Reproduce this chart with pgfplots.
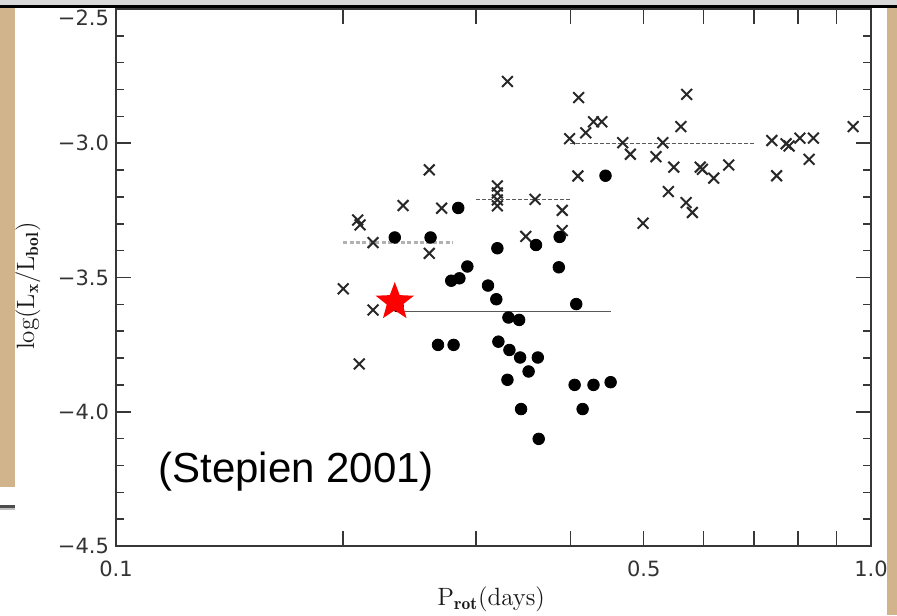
\documentclass[border=0pt]{standalone}
\usepackage{fontspec}
\usepackage{pgfplots}
\pgfplotsset{compat=1.18}
\usepackage{pgfplotstable}
\newfontfamily\tickfont{DejaVu Sans}
\newfontfamily\arialfont{Liberation Sans}
\definecolor{tanc}{RGB}{210,180,140}
\definecolor{axgray}{RGB}{55,55,55}
\definecolor{ptgray}{RGB}{40,40,40}

\pgfdeclareplotmark{fstar}{%
  \pgfpathmoveto{\pgfpointpolar{90}{\pgfplotmarksize}}%
  \pgfpathlineto{\pgfpointpolar{126}{0.42\pgfplotmarksize}}%
  \pgfpathlineto{\pgfpointpolar{162}{\pgfplotmarksize}}%
  \pgfpathlineto{\pgfpointpolar{198}{0.42\pgfplotmarksize}}%
  \pgfpathlineto{\pgfpointpolar{234}{\pgfplotmarksize}}%
  \pgfpathlineto{\pgfpointpolar{270}{0.42\pgfplotmarksize}}%
  \pgfpathlineto{\pgfpointpolar{306}{\pgfplotmarksize}}%
  \pgfpathlineto{\pgfpointpolar{342}{0.42\pgfplotmarksize}}%
  \pgfpathlineto{\pgfpointpolar{18}{\pgfplotmarksize}}%
  \pgfpathlineto{\pgfpointpolar{54}{0.42\pgfplotmarksize}}%
  \pgfpathclose\pgfusepathqfill}

\pgfplotstableread{
P L
0.200 -3.542
0.210 -3.822
0.209 -3.286
0.2105 -3.304
0.219 -3.370
0.219 -3.621
0.240 -3.232
0.260 -3.099
0.260 -3.410
0.270 -3.242
0.320 -3.159
0.320 -3.185
0.320 -3.211
0.320 -3.233
0.330 -2.770
0.349 -3.347
0.359 -3.209
0.390 -3.250
0.390 -3.325
0.399 -2.983
0.409 -3.122
0.410 -2.830
0.419 -2.961
0.429 -2.920
0.440 -2.920
0.469 -2.998
0.480 -3.041
0.499 -3.298
0.519 -3.050
0.530 -2.998
0.539 -3.180
0.548 -3.089
0.560 -2.938
0.570 -2.818
0.569 -3.221
0.580 -3.258
0.598 -3.097
0.594 -3.089
0.619 -3.130
0.648 -3.081
0.739 -2.990
0.750 -3.121
0.779 -3.010
0.772 -3.002
0.805 -2.981
0.839 -2.981
0.828 -3.060
0.947 -2.938
}\crosses

\pgfplotstableread{
P L
0.234 -3.351
0.261 -3.351
0.284 -3.241
0.320 -3.391
0.360 -3.379
0.387 -3.349
0.445 -3.121
0.292 -3.459
0.285 -3.503
0.278 -3.512
0.311 -3.530
0.319 -3.581
0.386 -3.462
0.236 -3.606
0.407 -3.599
0.331 -3.649
0.342 -3.658
0.267 -3.751
0.280 -3.751
0.321 -3.739
0.332 -3.770
0.343 -3.798
0.362 -3.798
0.352 -3.850
0.330 -3.881
0.405 -3.900
0.429 -3.900
0.452 -3.890
0.344 -3.990
0.415 -3.990
0.363 -4.101
}\dots

\begin{document}
\begin{tikzpicture}
\useasboundingbox (0,0) rectangle (448.5pt,307.5pt);
% slide background decorations
\fill[white] (0,0) rectangle (448.5pt,307.5pt);
\fill[black!15] (0,305pt) rectangle (448.5pt,307.5pt);
\fill[black] (0,303.5pt) rectangle (448.5pt,305pt);
\fill[tanc] (0,64pt) rectangle (7.5pt,303.5pt);
\fill[tanc] (443.5pt,0) rectangle (448.5pt,303.5pt);
\fill[black!70] (0,53.5pt) rectangle (7.5pt,55pt);
\fill[black!25] (0,52.5pt) rectangle (7.5pt,53.5pt);
\begin{axis}[
  at={(58pt,34.5pt)}, anchor=south west,
  scale only axis, width=377.5pt, height=268.5pt,
  xmode=log, xmin=0.1, xmax=1.0, ymin=-4.5, ymax=-2.5,
  log basis x=10,
  xtick={0.1,0.2,0.3,0.4,0.5,0.6,0.7,0.8,0.9,1.0},
  xticklabels={0.1,,,,0.5,,,,,1.0},
  minor xtick={},
  ytick={-4.5,-4.0,-3.5,-3.0,-2.5},
  yticklabels={−4.5,−4.0,−3.5,−3.0,\raisebox{-8.3pt}[0pt][0pt]{−2.5}},
  minor y tick num=4,
  major tick length=7.5pt, minor tick length=4pt,
  tick style={axgray, line width=0.75pt},
  axis line style={axgray, line width=1pt},
  ticklabel style={font=\tickfont\fontsize{10.5}{12}\selectfont, text=black!80},
  xticklabel style={yshift=-4pt},
  xlabel={P$_{\mathbf{rot}}$(days)},
  ylabel={log(L$_{\mathbf{x}}$/L$_{\mathbf{bol}}$)},
  label style={font=\fontsize{12.5}{14}\selectfont, text=black!90},
  xlabel style={at={(axis description cs:0.497,-0.10)}, anchor=center},
  ylabel style={at={(axis description cs:-0.1166,0.484)}, anchor=center, rotate=0},
  clip=false,
]
% mean lines
\addplot[black!30, line width=1.3pt, dash pattern=on 2pt off 1.2pt] coordinates {(0.200,-3.370) (0.279,-3.370)};
\addplot[black!65, line width=0.55pt, dash pattern=on 2pt off 1pt] coordinates {(0.300,-3.211) (0.399,-3.211)};
\addplot[black!65, line width=0.55pt, dash pattern=on 2pt off 1pt] coordinates {(0.399,-3.000) (0.700,-3.000)};
\addplot[black!65, line width=0.7pt] coordinates {(0.237,-3.627) (0.452,-3.627)};
% data
\addplot[only marks, mark=x, mark size=3.8pt, mark options={ptgray, line width=1pt}] table[x=P,y=L] {\crosses};
\addplot[only marks, mark=*, mark size=2.9pt, mark options={black, fill=black}] table[x=P,y=L] {\dots};
\addplot[only marks, mark=fstar, mark size=10pt, mark options={red, fill=red}] coordinates {(0.234,-3.591)};
\node[anchor=base west, font=\arialfont\fontsize{21}{24}\selectfont, inner sep=0pt] at (rel axis cs:0.0556,0.119) {(Stepien 2001)};
\end{axis}
\end{tikzpicture}
\end{document}
